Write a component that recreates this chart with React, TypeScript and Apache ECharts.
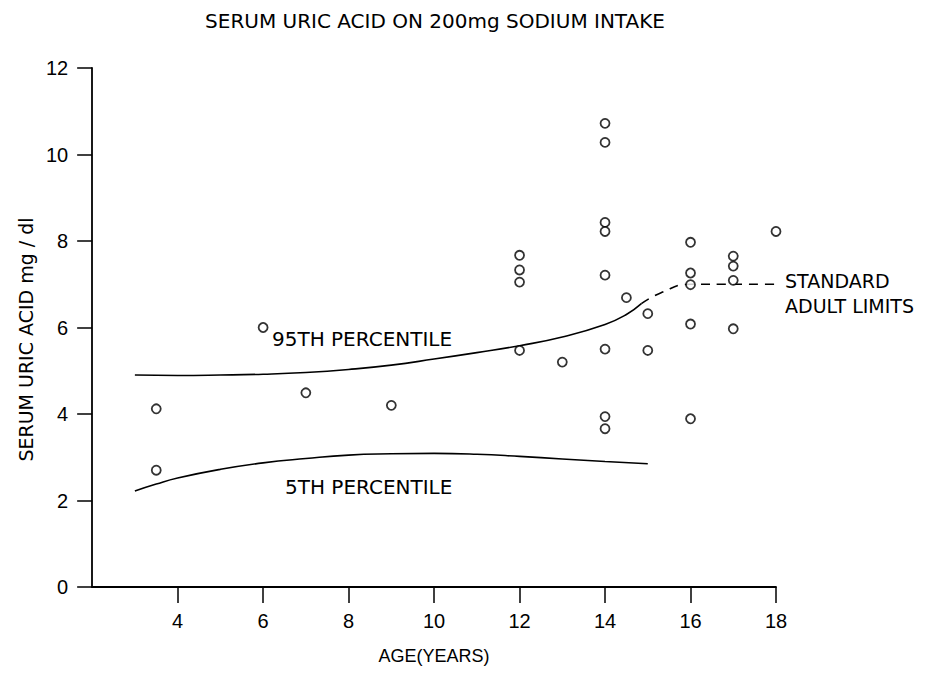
import React, { useEffect, useRef } from "react";
import * as echarts from "echarts";

const titleText = "SERUM URIC ACID ON 200mg SODIUM INTAKE";
const xAxisName = "AGE(YEARS)";
const yAxisName = "SERUM URIC ACID mg / dl";
const xTicks = [4, 6, 8, 10, 12, 14, 16, 18];

const ages = [3.5, 3.5, 6, 7, 9, 12, 12, 12, 12, 13, 14, 14, 14, 14, 14, 14, 14, 14, 14.5, 15, 15, 16, 16, 16, 16, 16, 17, 17, 17, 17, 18];
const uricAcid = [4.12, 2.7, 6.0, 4.49, 4.2, 7.67, 7.33, 7.05, 5.47, 5.2, 10.72, 10.28, 8.43, 8.22, 7.21, 5.5, 3.94, 3.66, 6.69, 6.32, 5.47, 7.97, 7.26, 6.99, 6.08, 3.89, 7.65, 7.42, 7.09, 5.97, 8.22];

const p95Ages = [3, 4, 5, 6, 7, 8, 9, 10, 11, 12, 13, 14, 14.5, 14.85];
const p95Values = [4.9, 4.89, 4.9, 4.92, 4.96, 5.03, 5.13, 5.27, 5.42, 5.58, 5.78, 6.07, 6.3, 6.55];

const adultAges = [14.85, 15.3, 16, 17, 18.1];
const adultValues = [6.55, 6.8, 7.0, 7.0, 7.0];

const p5Ages = [3, 3.5, 4, 5, 6, 7, 8, 9, 10, 11, 12, 13, 14, 15];
const p5Values = [2.22, 2.38, 2.52, 2.72, 2.87, 2.97, 3.05, 3.08, 3.09, 3.07, 3.02, 2.96, 2.9, 2.85];

const zip = (a: number[], b: number[]) => a.map((v, i) => [v, b[i]]);

const FONT = "Liberation Sans";
const WIDE = "DejaVu Sans";

export default function App() {
  const ref = useRef<HTMLDivElement>(null);
  useEffect(() => {
    if (!ref.current) return;
    const chart = echarts.init(ref.current, null, { renderer: "svg" });
    chart.setOption({
      animation: false,
      backgroundColor: "#ffffff",
      textStyle: { fontFamily: FONT, color: "#000" },
      title: {
        text: titleText,
        left: 427,
        top: 3,
        padding: 0,
        textAlign: "center",
        textStyle: { fontFamily: WIDE, fontSize: 20, fontWeight: "normal", color: "#000" },
      },
      grid: { left: 75, right: 157, top: 60, bottom: 78, containLabel: false },
      xAxis: {
        type: "value",
        min: 2,
        max: 18,
        interval: 2,
        name: xAxisName,
        nameLocation: "middle",
        nameGap: 60,
        nameTextStyle: { fontFamily: FONT, fontSize: 18, color: "#000" },
        axisLine: { lineStyle: { color: "#000", width: 1.8 } },
        axisTick: { show: true, length: 16, lineStyle: { color: "#000", width: 1.5 }, customValues: xTicks },
        axisLabel: { fontFamily: FONT, fontSize: 20, color: "#000", margin: 24, customValues: xTicks },
        splitLine: { show: false },
      },
      yAxis: {
        type: "value",
        min: 0,
        max: 12,
        interval: 2,
        name: yAxisName,
        nameLocation: "middle",
        nameRotate: 90,
        nameGap: 45,
        nameTextStyle: { fontFamily: WIDE, fontSize: 19, color: "#000", padding: [0, 24, 0, 0] },
        axisLine: { show: true, lineStyle: { color: "#000", width: 1.8 } },
        axisTick: { show: true, length: 15, lineStyle: { color: "#000", width: 1.5 } },
        axisLabel: { fontFamily: FONT, fontSize: 20, color: "#000", margin: 24 },
        splitLine: { show: false },
      },
      series: [
        {
          type: "line",
          data: zip(p95Ages, p95Values),
          smooth: true,
          showSymbol: false,
          lineStyle: { color: "#000", width: 1.6 },
        },
        {
          type: "line",
          data: zip(adultAges, adultValues),
          smooth: true,
          showSymbol: false,
          lineStyle: { color: "#000", width: 1.6, type: [9, 7] },
        },
        {
          type: "line",
          data: zip(p5Ages, p5Values),
          smooth: true,
          showSymbol: false,
          lineStyle: { color: "#000", width: 1.6 },
        },
        {
          type: "scatter",
          data: zip(ages, uricAcid),
          symbol: "circle",
          symbolSize: 9,
          itemStyle: { color: "#fff", borderColor: "#000", borderWidth: 1.8 },
          z: 5,
        },
      ],
      graphic: [
        { type: "text", left: 264, top: 321, style: { text: "95TH PERCENTILE", font: `20px '${WIDE}'`, fill: "#000" } },
        { type: "text", left: 277, top: 469, style: { text: "5TH PERCENTILE", font: `20px '${WIDE}'`, fill: "#000" } },
        { type: "text", left: 777, top: 263, style: { text: "STANDARD", font: `19px '${WIDE}'`, fill: "#000" } },
        { type: "text", left: 777, top: 288, style: { text: "ADULT LIMITS", font: `19px '${WIDE}'`, fill: "#000" } },
      ],
    });
    return () => chart.dispose();
  }, []);
  return <div ref={ref} style={{ width: 925, height: 662 }} />;
}
